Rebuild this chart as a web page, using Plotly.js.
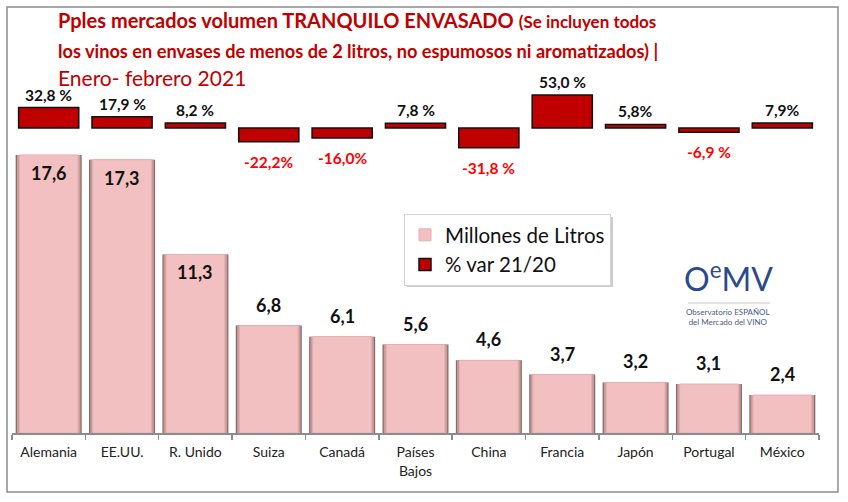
<!DOCTYPE html>
<html>
<head>
<meta charset="utf-8">
<script src="https://cdn.plot.ly/plotly-3.0.1.min.js"></script>
<style>
  html, body { margin: 0; padding: 0; background: #fff; }
  #chart { width: 848px; height: 502px; }
</style>
</head>
<body>
<div id="chart"></div>
<script>
// Principales mercados, vino tranquilo envasado, enero-febrero 2021
const countries = ['Alemania', 'EE.UU.', 'R. Unido', 'Suiza', 'Canadá', 'Países<br>Bajos',
                   'China', 'Francia', 'Japón', 'Portugal', 'México'];
const volume = [17.6, 17.3, 11.3, 6.8, 6.1, 5.6, 4.6, 3.7, 3.2, 3.1, 2.4];          // millones de litros
const pctVar = [32.8, 17.9, 8.2, -22.2, -16.0, 7.8, -31.8, 53.0, 5.8, -6.9, 7.9];   // % var 21/20
const pctLabels = ['32,8 %', '17,9 %', '8,2 %', '-22,2%', '-16,0%', '7,8 %',
                   '-31,8 %', '53,0 %', '5,8%', '-6,9 %', '7,9%'];

const W = 848, H = 502;
const M = { l: 12, r: 29, t: 60, b: 69 };
const PW = W - M.l - M.r, PH = H - M.t - M.b;
// pixel position -> paper coordinates
const px = x => (x - M.l) / PW;
const py = y => (H - M.b - y) / PH;

const FONT = 'Lato, "Open Sans", sans-serif';
const RED = '#C00000';

const fmt = v => v.toFixed(1).replace('.', ',');

const traces = [
  // bevel layers of the volume bars (dark rim, mid tone, face)
  {
    type: 'bar', x: countries, y: volume, yaxis: 'y',
    width: 0.9, marker: { color: '#8A6B6B' },
    showlegend: false, hoverinfo: 'skip'
  },
  {
    type: 'bar', x: countries, y: volume, yaxis: 'y',
    width: 0.865, marker: { color: '#C99C9C' },
    showlegend: false, hoverinfo: 'skip'
  },
  {
    type: 'bar', name: 'Millones de Litros', x: countries, y: volume, yaxis: 'y',
    width: 0.8, marker: { color: '#F2C0C0', line: { color: '#E2B0B0', width: 1 } }
  },
  {
    type: 'bar', name: '% var 21/20', x: countries, y: pctVar, yaxis: 'y2',
    width: 0.82, marker: { color: RED, line: { color: '#111', width: 1.5 } }
  }
];

const annotations = [];

// value labels on the volume bars
countries.forEach((c, i) => {
  const inside = volume[i] > 10;
  annotations.push({
    x: c, y: volume[i], xref: 'x', yref: 'y',
    text: '<b>' + fmt(volume[i]) + '</b>',
    showarrow: false,
    yanchor: inside ? 'top' : 'bottom',
    yshift: inside ? -5 : 8,
    font: { family: FONT, size: 18, color: '#111' }
  });
});

// labels on the variation bars
countries.forEach((c, i) => {
  const pos = pctVar[i] >= 0;
  annotations.push({
    x: c, y: pctVar[i], xref: 'x', yref: 'y2',
    text: '<b>' + pctLabels[i] + '</b>',
    showarrow: false,
    yanchor: pos ? 'bottom' : 'top',
    yshift: pos ? 2 : -9,
    font: { family: FONT, size: 15.5, color: pos ? '#111' : '#FF0000' }
  });
});

// title block
annotations.push(
  {
    xref: 'paper', yref: 'paper', x: px(56), y: py(20), xanchor: 'left', yanchor: 'middle',
    showarrow: false,
    text: '<b>Pples mercados volumen TRANQUILO ENVASADO</b> <span style="font-size:17px"><b>(Se incluyen todos</b></span>',
    font: { family: FONT, size: 20, color: RED }
  },
  {
    xref: 'paper', yref: 'paper', x: px(56), y: py(51), xanchor: 'left', yanchor: 'middle',
    showarrow: false,
    text: '<b>los vinos en envases de menos de 2 litros, no espumosos ni aromatizados) |</b>',
    font: { family: FONT, size: 18.2, color: RED }
  },
  {
    xref: 'paper', yref: 'paper', x: px(56), y: py(77), xanchor: 'left', yanchor: 'middle',
    showarrow: false,
    text: 'Enero- febrero 2021',
    font: { family: FONT, size: 21, color: RED }
  }
);

// OeMV logo
annotations.push(
  {
    xref: 'paper', yref: 'paper', x: px(728), y: py(300), xanchor: 'center', yanchor: 'bottom',
    showarrow: false,
    text: 'O<sup>e</sup>MV',
    font: { family: FONT, size: 32, color: '#2B4A8A' }
  },
  {
    xref: 'paper', yref: 'paper', x: px(728), y: py(305), xanchor: 'center', yanchor: 'top',
    showarrow: false,
    text: 'Observatorio ESPAÑOL<br>del Mercado del VINO',
    font: { family: FONT, size: 8, color: '#4A5B85' }
  }
);

const shapes = [
  // outer chart frame
  {
    type: 'rect', xref: 'paper', yref: 'paper',
    x0: px(7), x1: px(838), y0: py(492), y1: py(7),
    line: { color: '#8C8C8C', width: 1.5 }, fillcolor: 'rgba(0,0,0,0)', layer: 'below'
  },
  // legend drop shadow
  {
    type: 'rect', xref: 'paper', yref: 'paper',
    x0: px(407), x1: px(613), y0: py(287), y1: py(217),
    line: { width: 0 }, fillcolor: 'rgba(110,110,110,0.35)', layer: 'above'
  },
  // rule under the logo lettering
  {
    type: 'line', xref: 'paper', yref: 'paper',
    x0: px(688), x1: px(770), y0: py(303), y1: py(303),
    line: { color: '#C8C8C8', width: 1 }
  }
];

const layout = {
  width: W, height: H,
  margin: M,
  paper_bgcolor: '#fff', plot_bgcolor: '#fff',
  barmode: 'overlay',
  bargap: 0.1,
  font: { family: FONT, color: '#222' },
  xaxis: {
    type: 'category',
    showline: true, linecolor: '#8C8C8C', linewidth: 1.5,
    ticks: 'outside', tickson: 'boundaries', ticklen: 5, tickcolor: '#8C8C8C', tickwidth: 1.5,
    ticklabelstandoff: 6,
    tickfont: { family: FONT, size: 14, color: '#222' },
    showgrid: false, zeroline: false
  },
  yaxis: {
    range: [0, 23.61], visible: false, showgrid: false, zeroline: false, fixedrange: true
  },
  yaxis2: {
    overlaying: 'y', range: [-489.9, 109.2], visible: false,
    showgrid: false, zeroline: false, fixedrange: true
  },
  legend: {
    x: px(404), y: py(214), xanchor: 'left', yanchor: 'top',
    bgcolor: '#fff', bordercolor: '#D4D4D4', borderwidth: 1,
    font: { family: FONT, size: 20.5, color: '#111' },
    traceorder: 'normal', itemwidth: 30
  },
  showlegend: true,
  annotations: annotations,
  shapes: shapes
};

Plotly.newPlot('chart', traces, layout, { displayModeBar: false, staticPlot: true });
</script>
</body>
</html>
